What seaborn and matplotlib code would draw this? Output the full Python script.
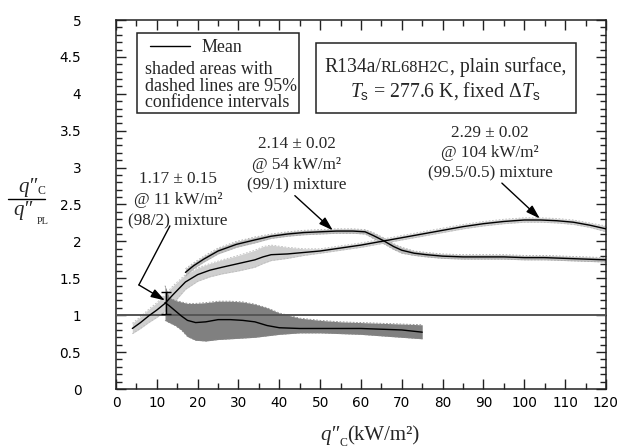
import matplotlib
matplotlib.use("Agg")
import matplotlib.pyplot as plt
import seaborn as sns
from matplotlib.patches import Rectangle
from matplotlib.lines import Line2D

# ---------------- data ----------------
# (98/2) mixture  - dark band
xA    = [12.0, 13.0, 14.5, 16.0, 17.5, 19.5, 22, 25, 28, 31, 34, 37, 40, 45, 50, 55, 60, 65, 70, 75]
meanA = [1.17, 1.13, 1.06, 0.99, 0.93, 0.90, 0.91, 0.94, 0.94, 0.93, 0.91, 0.86, 0.83, 0.82, 0.82, 0.82, 0.82, 0.81, 0.80, 0.77]
hiA   = [1.40, 1.24, 1.20, 1.18, 1.16, 1.16, 1.17, 1.19, 1.19, 1.18, 1.15, 1.10, 1.03, 0.96, 0.93, 0.91, 0.90, 0.89, 0.88, 0.87]
loA   = [0.93, 0.90, 0.86, 0.80, 0.71, 0.66, 0.65, 0.67, 0.68, 0.69, 0.70, 0.72, 0.74, 0.76, 0.76, 0.75, 0.74, 0.72, 0.70, 0.68]

# (99/1) mixture
xB    = [17, 19, 21.5, 25, 29.5, 34, 38, 42, 46, 50, 54, 58, 61, 63, 65.5, 68, 70, 73, 76, 80, 85, 90, 95, 100, 105, 110, 115, 120]
meanB = [1.58, 1.67, 1.76, 1.87, 1.96, 2.02, 2.07, 2.10, 2.12, 2.13, 2.14, 2.14, 2.13, 2.08, 2.01, 1.93, 1.88, 1.84, 1.82, 1.80, 1.79, 1.79, 1.79, 1.78, 1.78, 1.77, 1.76, 1.75]
loB   = [1.53, 1.63, 1.72, 1.83, 1.92, 1.98, 2.04, 2.07, 2.09, 2.10, 2.11, 2.11, 2.10, 2.04, 1.97, 1.89, 1.84, 1.81, 1.79, 1.77, 1.76, 1.76, 1.76, 1.75, 1.75, 1.74, 1.73, 1.72]
hiB   = [1.63, 1.71, 1.80, 1.91, 2.00, 2.06, 2.10, 2.13, 2.15, 2.16, 2.17, 2.17, 2.16, 2.12, 2.05, 1.97, 1.92, 1.87, 1.85, 1.83, 1.82, 1.82, 1.82, 1.81, 1.81, 1.80, 1.79, 1.78]

# (99.5/0.5) mixture
xC    = [4, 6, 8, 10, 12, 14, 17, 20, 23, 26, 30, 34, 36, 38, 42, 46, 50, 55, 60, 65, 70, 75, 80, 85, 90, 95, 100, 104, 108, 112, 116, 120]
meanC = [0.82, 0.90, 0.99, 1.07, 1.16, 1.28, 1.45, 1.55, 1.61, 1.65, 1.70, 1.75, 1.79, 1.82, 1.83, 1.85, 1.87, 1.91, 1.95, 2.00, 2.05, 2.10, 2.15, 2.20, 2.24, 2.27, 2.29, 2.29, 2.28, 2.26, 2.22, 2.17]
loC   = [0.75, 0.82, 0.90, 0.97, 1.05, 1.16, 1.35, 1.46, 1.52, 1.56, 1.60, 1.65, 1.70, 1.74, 1.77, 1.81, 1.84, 1.88, 1.92, 1.97, 2.02, 2.07, 2.12, 2.17, 2.21, 2.24, 2.26, 2.26, 2.25, 2.23, 2.19, 2.13]
hiC   = [0.89, 0.98, 1.08, 1.17, 1.28, 1.40, 1.55, 1.64, 1.70, 1.75, 1.81, 1.88, 1.93, 1.95, 1.92, 1.90, 1.90, 1.94, 1.98, 2.03, 2.08, 2.13, 2.18, 2.23, 2.27, 2.30, 2.32, 2.32, 2.31, 2.29, 2.25, 2.21]

# peak marker (value, uncertainty, location)
errX, errY, errE = 12.2, 1.17, 0.15

x_ticks = [0, 10, 20, 30, 40, 50, 60, 70, 80, 90, 100, 110, 120]
y_ticks = [0, 0.5, 1, 1.5, 2, 2.5, 3, 3.5, 4, 4.5, 5]
y_tick_labels = ["0", "0.5", "1", "1.5", "2", "2.5", "3", "3.5", "4", "4.5", "5"]

ann1 = ["1.17 \u00b1 0.15", "@ 11 kW/m\u00b2", "(98/2) mixture"]
ann2 = ["2.14 \u00b1 0.02", "@ 54 kW/m\u00b2", "(99/1) mixture"]
ann3 = ["2.29 \u00b1 0.02", "@ 104 kW/m\u00b2", "(99.5/0.5) mixture"]
legend_lines = ["shaded areas with", "dashed lines are 95%", "confidence intervals"]

# ---------------- style ----------------
sns.set_theme(style="ticks")
plt.rcParams['font.family'] = ['DejaVu Sans']
plt.rcParams['mathtext.fontset'] = 'custom'
plt.rcParams['mathtext.rm'] = 'Liberation Serif'
plt.rcParams['mathtext.it'] = 'Liberation Serif:italic'
plt.rcParams['mathtext.sf'] = 'Liberation Sans'
SERIF = ['Liberation Serif', 'DejaVu Serif']
W, H = 621, 448

fig = plt.figure(figsize=(6.21, 4.48), dpi=100)
ax = fig.add_axes([116 / W, 1 - 389 / H, 490 / W, 369 / H])


def fx(px):
    return px / W


def fy(py):
    return 1 - py / H


LIGHT = '#cfcfcf'
LIGHTB = '#bdbdbd'
DARK = '#808080'

# bands
ax.fill_between(xC, loC, hiC, color=LIGHT, lw=0, zorder=1)
ax.fill_between(xB, loB, hiB, color=LIGHTB, lw=0, zorder=1)
for yy in (loC, hiC):
    ax.plot(xC, yy, color='#bbbbbb', lw=0.6, ls=(0, (2, 2)), zorder=1.5)
for yy in (loB, hiB):
    ax.plot(xB, yy, color='#aaaaaa', lw=0.6, ls=(0, (2, 2)), zorder=1.5)
ax.fill_between(xA, loA, hiA, color=DARK, lw=0, zorder=2)
for yy in (loA, hiA):
    ax.plot(xA, yy, color='#8a8a8a', lw=0.6, ls=(0, (2, 2)), zorder=2.5)

# reference line
ax.axhline(1.0, color='#555555', lw=1.4, zorder=3)

# means
sns.lineplot(x=xC, y=meanC, color='black', lw=1.0, ax=ax, sort=False, estimator=None, zorder=4)
sns.lineplot(x=xB, y=meanB, color='black', lw=1.0, ax=ax, sort=False, estimator=None, zorder=4)
sns.lineplot(x=xA, y=meanA, color='black', lw=1.0, ax=ax, sort=False, estimator=None, zorder=4)

ax.errorbar([errX], [errY], yerr=[errE], fmt='none', ecolor='black', elinewidth=1.0,
            capsize=3.5, capthick=1.0, zorder=5)

# axes
ax.set_xlim(0, 120)
ax.set_ylim(0, 5)
ax.set_xticks(x_ticks)
ax.set_xticks(list(range(5, 120, 10)), minor=True)
ax.set_yticks(y_ticks)
ax.set_yticklabels(y_tick_labels)
ax.set_yticks([i / 10 for i in range(51) if i % 5 != 0], minor=True)
ax.tick_params(which='both', direction='in', top=True, right=True, color='#222222', width=1.0)
ax.tick_params(which='major', length=7)
ax.tick_params(which='minor', length=4)
ax.tick_params(axis='y', which='major', pad=25, labelsize=9.8, labelcolor='black')
ax.tick_params(axis='x', which='major', pad=5, labelsize=9.8, labelcolor='black')
for s in ax.spines.values():
    s.set_linewidth(1.1)
    s.set_color('#222222')
ax.set_xlabel('')
ax.set_ylabel('')

fig.canvas.draw()
R = fig.canvas.get_renderer()


def compose(pieces, x_left=None, x_center=None):
    """pieces: list of (text, fontsize, baseline_px, style, family)."""
    arts = []
    for s, fs, base, st, fam in pieces:
        arts.append(fig.text(0, fy(base), s, ha='left', va='baseline', fontsize=fs,
                             style=st, family=fam))
    widths = [a.get_window_extent(R).width for a in arts]
    x0 = x_left if x_left is not None else x_center - sum(widths) / 2
    for a, w in zip(arts, widths):
        a.set_x(fx(x0))
        x0 += w
    return arts


TS = 12.3
# annotations
for lines, cx, bases in ((ann1, 178, (183.3, 204, 225)),
                         (ann2, 297, (148.5, 169, 189.5)),
                         (ann3, 490, (136.7, 157, 177.5))):
    for s, b in zip(lines, bases):
        fig.text(fx(cx), fy(b), s, ha='center', va='baseline', fontsize=TS, family=SERIF)

arrow = dict(arrowstyle='-|>,head_length=0.7,head_width=0.22', color='black', lw=1.0,
             shrinkA=0, shrinkB=0)
ax.plot([13.2, 5.6], [2.21, 1.41], color='black', lw=1.0, zorder=6)
ax.annotate('', xy=(12.0, 1.20), xytext=(5.6, 1.41), arrowprops=arrow, zorder=6)
ax.annotate('', xy=(53.1, 2.15), xytext=(43.8, 2.62), arrowprops=arrow, zorder=6)
ax.annotate('', xy=(103.8, 2.31), xytext=(94.5, 2.79), arrowprops=arrow, zorder=6)

# legend box
LS = 12.9
fig.add_artist(Rectangle((fx(137.3), fy(113.3)), (299.3 - 137.3) / W, (113.3 - 32.7) / H,
                         transform=fig.transFigure, fill=False, lw=1.1, ec='#222222'))
fig.add_artist(Line2D([fx(150), fx(190)], [fy(46), fy(46)], transform=fig.transFigure,
                      color='black', lw=1.0))
fig.text(fx(201.7), fy(51.7), 'Mean', ha='left', va='baseline', fontsize=LS, family=SERIF)
for s, b in zip(legend_lines, (74, 90.7, 107.3)):
    fig.text(fx(145), fy(b), s, ha='left', va='baseline', fontsize=LS, family=SERIF)

# condition box
BS = 14.2
fig.add_artist(Rectangle((fx(316), fy(113.3)), (576 - 316) / W, (113.3 - 42.7) / H,
                         transform=fig.transFigure, fill=False, lw=1.1, ec='#222222'))
compose([('R134a/', BS, 72, 'normal', SERIF),
         ('RL68H2C', BS * 0.83, 72, 'normal', SERIF),
         (', plain surface,', BS, 72, 'normal', SERIF)], x_center=445)
fig.text(fx(445), fy(97), r'$T_\mathsf{s}$ = 277.6 K, fixed $\Delta T_\mathsf{s}$',
         ha='center', va='baseline', fontsize=BS, family=SERIF)

# y label as fraction
compose([('q\u2033', 15, 192, 'italic', SERIF), ('C', 8.5, 194, 'normal', SERIF)], x_left=18)
fig.add_artist(Line2D([fx(8), fx(45)], [fy(199.3), fy(199.3)], transform=fig.transFigure,
                      color='black', lw=1.0))
compose([('q\u2033', 15, 215, 'italic', SERIF), ('  ', 6, 224, 'normal', SERIF),
         ('PL', 7.5, 224, 'normal', SERIF)], x_left=13)

# x label
compose([('q\u2033', 15, 440, 'italic', SERIF), ('C', 8.5, 446, 'normal', SERIF),
         ('(kW/m\u00b2)', 15, 440, 'normal', SERIF)], x_center=370)

fig.savefig('out.png', dpi=100)
